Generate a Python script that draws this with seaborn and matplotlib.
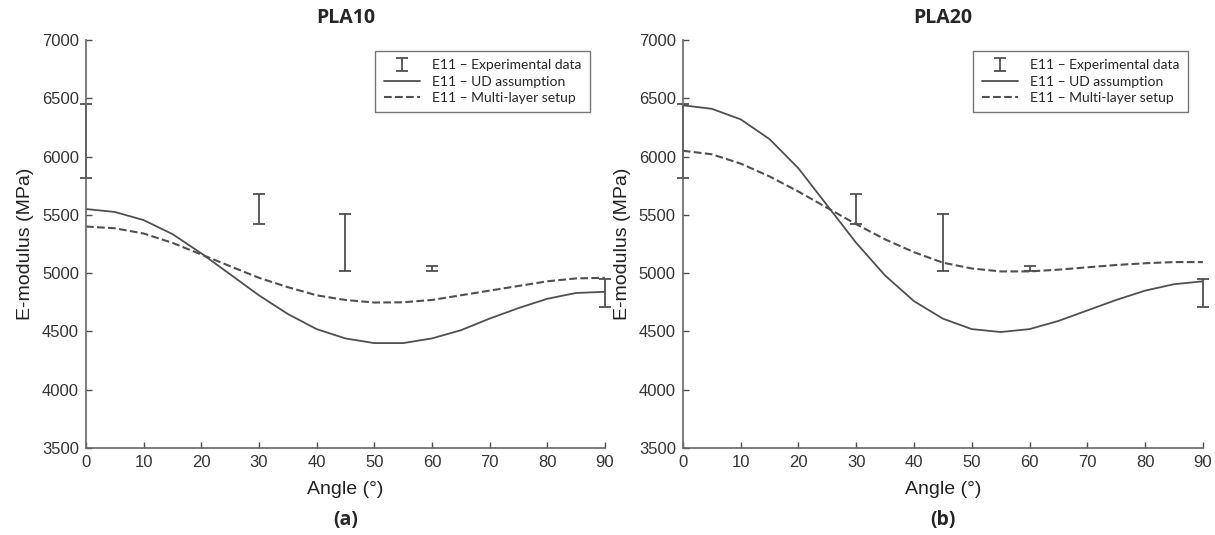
import numpy as np
import pandas as pd
import matplotlib
matplotlib.use("Agg")
import matplotlib.pyplot as plt
import seaborn as sns

# angles for the model curves (read every 5 deg from the picture)
angles = [0, 5, 10, 15, 20, 25, 30, 35, 40, 45, 50, 55, 60, 65, 70, 75, 80, 85, 90]

pla10_ud = [5550, 5525, 5455, 5335, 5170, 4990, 4810, 4650, 4520, 4440,
            4400, 4400, 4440, 4510, 4610, 4700, 4780, 4830, 4840]
pla10_ml = [5400, 5385, 5340, 5260, 5160, 5060, 4960, 4880, 4810, 4770,
            4748, 4750, 4770, 4810, 4850, 4890, 4930, 4955, 4960]

pla20_ud = [6440, 6410, 6320, 6150, 5900, 5580, 5260, 4980, 4760, 4610,
            4520, 4495, 4520, 4590, 4680, 4770, 4850, 4905, 4930]
pla20_ml = [6050, 6020, 5940, 5830, 5700, 5560, 5420, 5290, 5180, 5090,
            5040, 5015, 5015, 5030, 5050, 5070, 5085, 5095, 5095]

# experimental data (min / max of the error bars)
exp_angles = [0, 30, 45, 60, 90]
exp_low = [5820, 5420, 5020, 5020, 4710]
exp_high = [6450, 5680, 5510, 5060, 4950]

titles = ["PLA10", "PLA20"]
panel_tags = ["(a)", "(b)"]

sns.set_style("ticks")
plt.rcParams['font.family'] = ['Liberation Sans', 'DejaVu Sans']

fig = plt.figure(figsize=(12.15, 5.35), dpi=100)
ax1 = fig.add_axes([0.0708, 0.1626, 0.427, 0.7626])
ax2 = fig.add_axes([0.562, 0.1626, 0.428, 0.7626])

line_col = "#505050"
text_col = "#333333"

for ax, ud, ml, title, tag in zip([ax1, ax2], [pla10_ud, pla20_ud], [pla10_ml, pla20_ml],
                                  titles, panel_tags):
    df = pd.DataFrame({"Angle": angles * 2,
                       "E": ud + ml,
                       "model": ["UD"] * len(angles) + ["ML"] * len(angles)})
    sns.lineplot(data=df[df.model == "UD"], x="Angle", y="E", ax=ax,
                 color=line_col, lw=1.3, label="E11 \u2013 UD assumption")
    sns.lineplot(data=df[df.model == "ML"], x="Angle", y="E", ax=ax,
                 color=line_col, lw=1.5, dashes=(4, 3), linestyle="--",
                 label="E11 \u2013 Multi-layer setup")

    mid = [(a + b) / 2 for a, b in zip(exp_low, exp_high)]
    err = [(b - a) / 2 for a, b in zip(exp_low, exp_high)]
    eb = ax.errorbar(exp_angles, mid, yerr=err, fmt="none", ecolor=line_col,
                     elinewidth=1.3, capsize=4, capthick=1.3, clip_on=False,
                     label="E11 \u2013 Experimental data")
    for art in eb.lines[1] + eb.lines[2]:
        art.set_clip_on(False)

    ax.set_xlim(0, 90)
    ax.set_ylim(3500, 7000)
    ax.set_xticks(range(0, 91, 10))
    ax.set_yticks(range(3500, 7001, 500))
    ax.tick_params(direction="in", length=4, width=1, colors=line_col,
                   labelcolor=text_col, labelsize=12, pad=5)
    for s in ["left", "bottom"]:
        ax.spines[s].set_color("#666666")
        ax.spines[s].set_linewidth(1.2)
    sns.despine(ax=ax)

    ax.set_xlabel("Angle (\u00b0)", fontsize=14, color="#222222", labelpad=8)
    ax.set_ylabel("E-modulus (MPa)", fontsize=14, color="#222222", labelpad=6)
    ax.set_title(title, fontsize=14, fontweight="bold", family=["Open Sans", "DejaVu Sans"],
                 pad=12)
    ax.text(0.5, -0.177, tag, transform=ax.transAxes, ha="center", va="center",
            fontsize=14, fontweight="bold", family=["Open Sans", "DejaVu Sans"])

    handles, labels = ax.get_legend_handles_labels()
    order = [labels.index("E11 \u2013 Experimental data"),
             labels.index("E11 \u2013 UD assumption"),
             labels.index("E11 \u2013 Multi-layer setup")]
    leg = ax.legend([handles[i] for i in order], [labels[i] for i in order],
                    loc="upper right", bbox_to_anchor=(0.985, 0.99),
                    prop={"family": ["Lato", "DejaVu Sans"], "size": 10},
                    frameon=True, fancybox=False, edgecolor="#555555",
                    handlelength=2.6, borderpad=0.6, labelspacing=0.3,
                    handletextpad=0.9)
    leg.get_frame().set_linewidth(1.0)

fig.savefig("out.png", dpi=100)
